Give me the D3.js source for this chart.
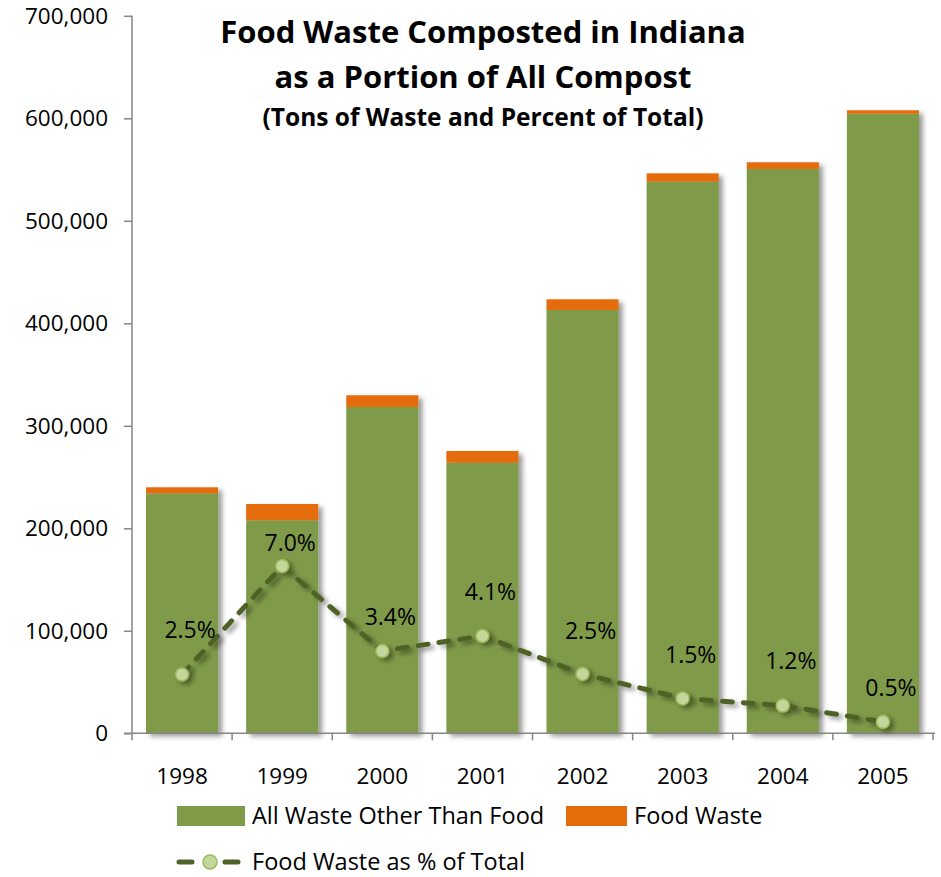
<!DOCTYPE html>
<html>
<head>
<meta charset="utf-8">
<script src="https://cdn.jsdelivr.net/npm/d3@7"></script>
<style>
  body { margin: 0; background: #fff; }
  svg text { font-family: "Open Sans", "DejaVu Sans", sans-serif; fill: #000; }
</style>
</head>
<body>
<div id="chart"></div>
<script>
var width = 941,
    height = 877;

// data
var years = ["1998", "1999", "2000", "2001", "2002", "2003", "2004", "2005"];
var otherWaste = [234100, 207800, 318300, 264000, 413000, 538200, 550500, 604500];
var foodWaste = [5900, 15900, 11500, 11400, 10400, 8100, 6600, 3300];
var foodPct = [2.46, 6.99, 3.44, 4.07, 2.48, 1.46, 1.16, 0.48];
var yTicks = [0, 100000, 200000, 300000, 400000, 500000, 600000, 700000];

// layout only: how far each % label sits above its marker
var labelLift = [45, 23, 34, 44, 43, 43, 45, 34];

var plot = {left: 132, right: 933, top: 15.8, bottom: 733.3};

var svg = d3.select("#chart").append("svg")
    .attr("width", width)
    .attr("height", height);

var defs = svg.append("defs");
var shadow = defs.append("filter").attr("id", "shadow")
    .attr("x", "-20%").attr("y", "-20%").attr("width", "150%").attr("height", "150%");
shadow.append("feDropShadow")
    .attr("dx", 4).attr("dy", 3).attr("stdDeviation", 2.5)
    .attr("flood-color", "#000").attr("flood-opacity", 0.4);

var x = d3.scaleBand()
    .domain(years)
    .range([plot.left, plot.right])
    .paddingInner(0.28)
    .paddingOuter(0.14);

var xBand = d3.scaleBand()
    .domain(years)
    .range([plot.left, plot.right]);

var y = d3.scaleLinear()
    .domain([0, 700000])
    .range([plot.bottom, plot.top]);

// secondary (hidden) axis for the percentage line
var y2 = d3.scaleLinear()
    .domain([0, 30])
    .range([plot.bottom, plot.top]);

var rows = years.map(function(yr, i){
  return {year: yr, other: otherWaste[i], food: foodWaste[i], pct: foodPct[i]};
});

var stack = d3.stack().keys(["other", "food"]);
var series = stack(rows);
var colors = {other: "#7f9b48", food: "#e46c0a"};

/* Bars */
var barGroup = svg.append("g").attr("filter", "url(#shadow)");
barGroup.selectAll("g.series")
  .data(series)
  .enter().append("g")
    .attr("class", "series")
    .attr("fill", function(d){ return colors[d.key]; })
  .selectAll("rect")
  .data(function(d){ return d; })
  .enter().append("rect")
    .attr("x", function(d){ return x(d.data.year); })
    .attr("width", x.bandwidth())
    .attr("y", function(d){ return y(d[1]); })
    .attr("height", function(d){ return y(d[0]) - y(d[1]); });

/* Axes */
var axisColor = "#868686";
var yAxis = svg.append("g")
    .attr("transform", "translate(" + plot.left + ",0)")
    .call(d3.axisLeft(y).tickValues(yTicks).tickSize(8).tickPadding(16)
      .tickFormat(d3.format(",")));
yAxis.select(".domain").attr("stroke", axisColor).attr("stroke-width", 1.5)
    .attr("d", "M0," + plot.top + "V" + plot.bottom);
yAxis.selectAll(".tick line").attr("stroke", axisColor).attr("stroke-width", 1.5);
yAxis.selectAll(".tick text").style("font-size", "22.5px").attr("dy", "0.34em");

var xAxis = svg.append("g")
    .attr("transform", "translate(0," + plot.bottom + ")")
    .call(d3.axisBottom(x).tickSize(0).tickPadding(35));
xAxis.select(".domain").attr("stroke", axisColor).attr("stroke-width", 1.5)
    .attr("d", "M" + (plot.left - 8) + ",0H" + (plot.right + 2));
xAxis.selectAll(".tick text").style("font-size", "22.5px");
// boundary ticks between categories
xAxis.selectAll("line.sep")
  .data(years.concat(["end"]))
  .enter().append("line")
    .attr("class", "sep")
    .attr("x1", function(d, i){ return plot.left + i * xBand.bandwidth(); })
    .attr("x2", function(d, i){ return plot.left + i * xBand.bandwidth(); })
    .attr("y1", 0).attr("y2", 7)
    .attr("stroke", axisColor).attr("stroke-width", 1.5);

/* Percentage line */
var cx = function(d){ return x(d.year) + x.bandwidth() / 2; };
var lineGroup = svg.append("g").attr("filter", "url(#shadow)");
var line = d3.line()
    .x(cx)
    .y(function(d){ return y2(d.pct); });

lineGroup.append("path")
    .datum(rows)
    .attr("d", line)
    .attr("fill", "none")
    .attr("stroke", "#4f6228")
    .attr("stroke-width", 5)
    .attr("stroke-linecap", "round")
    .attr("stroke-dasharray", "10,11");

lineGroup.selectAll("circle")
  .data(rows)
  .enter().append("circle")
    .attr("cx", cx)
    .attr("cy", function(d){ return y2(d.pct); })
    .attr("r", 6.5)
    .attr("fill", "#c3d69b")
    .attr("stroke", "#9bbb59")
    .attr("stroke-width", 1.5);

svg.append("g").selectAll("text")
  .data(rows)
  .enter().append("text")
    .attr("x", function(d){ return cx(d) + 8; })
    .attr("y", function(d, i){ return y2(d.pct) - labelLift[i]; })
    .attr("dy", "0.35em")
    .attr("text-anchor", "middle")
    .style("font-size", "23px")
    .text(function(d){ return d3.format(".1f")(d.pct) + "%"; });

/* Title */
var title = svg.append("g").attr("text-anchor", "middle");
title.append("text").attr("x", 483).attr("y", 43)
    .style("font-size", "31px").style("font-weight", "bold")
    .text("Food Waste Composted in Indiana");
title.append("text").attr("x", 483).attr("y", 88)
    .style("font-size", "31px").style("font-weight", "bold")
    .text("as a Portion of All Compost");
title.append("text").attr("x", 483).attr("y", 126)
    .style("font-size", "24.5px").style("font-weight", "bold")
    .text("(Tons of Waste and Percent of Total)");

/* Legend */
var legend = svg.append("g");
legend.append("rect").attr("x", 177).attr("y", 806).attr("width", 68).attr("height", 20)
    .attr("fill", colors.other);
legend.append("text").attr("x", 252).attr("y", 816).attr("dy", "0.35em")
    .style("font-size", "23.5px").text("All Waste Other Than Food");
legend.append("rect").attr("x", 566).attr("y", 806).attr("width", 61).attr("height", 20)
    .attr("fill", colors.food);
legend.append("text").attr("x", 634).attr("y", 816).attr("dy", "0.35em")
    .style("font-size", "23.5px").text("Food Waste");

legend.append("line").attr("x1", 179).attr("x2", 242).attr("y1", 862).attr("y2", 862)
    .attr("stroke", "#4f6228").attr("stroke-width", 5)
    .attr("stroke-linecap", "round").attr("stroke-dasharray", "13,33");
legend.append("circle").attr("cx", 210).attr("cy", 862).attr("r", 7)
    .attr("fill", "#c3d69b").attr("stroke", "#9bbb59").attr("stroke-width", 1.5);
legend.append("text").attr("x", 252).attr("y", 862).attr("dy", "0.35em")
    .style("font-size", "23.5px").text("Food Waste as % of Total");
</script>
</body>
</html>
